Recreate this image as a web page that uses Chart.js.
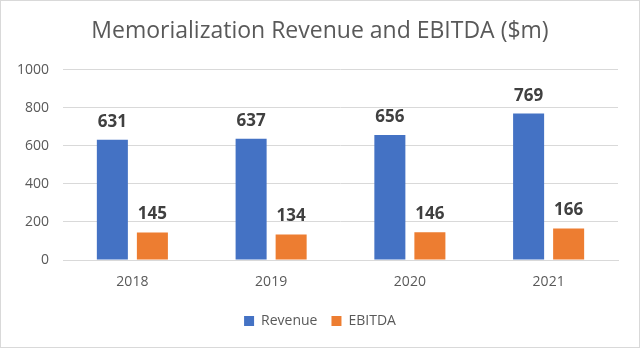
<!DOCTYPE html>
<html lang="en">
<head>
<meta charset="UTF-8">
<title>Memorialization Revenue and EBITDA</title>
<script src="https://cdn.jsdelivr.net/npm/chart.js"></script>
<style>
  html, body { margin: 0; padding: 0; background: #fff; }
  .marco { width: 638px; height: 346px; border: 1px solid #d9d9d9; }
</style>
</head>
<body>
<div class="marco">
  <canvas id="grafica" width="638" height="346"></canvas>
</div>
<script>
const years = ["2018", "2019", "2020", "2021"];
const revenue = [631, 637, 656, 769];
const ebitda = [145, 134, 146, 166];
const yTicks = [0, 200, 400, 600, 800, 1000];

const fuente = "'Open Sans', sans-serif";

// etiquetas de valor encima de cada barra
const etiquetas = {
  id: "etiquetas",
  afterDatasetsDraw(chart) {
    const ctx = chart.ctx;
    ctx.save();
    ctx.font = "bold 17px " + fuente;
    ctx.fillStyle = "#404040";
    ctx.textAlign = "center";
    ctx.textBaseline = "alphabetic";
    chart.data.datasets.forEach((ds, i) => {
      chart.getDatasetMeta(i).data.forEach((bar, j) => {
        ctx.fillText(ds.data[j], bar.x, bar.y - 13);
      });
    });
    ctx.restore();
  }
};

new Chart(document.getElementById("grafica"), {
  type: "bar",
  data: {
    labels: years,
    datasets: [
      { label: "Revenue", data: revenue, backgroundColor: "#4472c4" },
      { label: "EBITDA", data: ebitda, backgroundColor: "#ed7d31" }
    ]
  },
  options: {
    responsive: false,
    animation: false,
    layout: { padding: { left: 10, right: 10, top: 0, bottom: 9 } },
    datasets: { bar: { categoryPercentage: 0.577, barPercentage: 0.775 } },
    plugins: {
      title: {
        display: true,
        text: "Memorialization Revenue and EBITDA ($m)",
        color: "#595959",
        font: { family: fuente, size: 23, weight: "normal" },
        padding: { top: 17, bottom: 24 }
      },
      legend: {
        position: "bottom",
        labels: {
          color: "#595959",
          font: { family: fuente, size: 14 },
          boxWidth: 10, boxHeight: 10, padding: 14
        }
      },
      tooltip: { enabled: false }
    },
    scales: {
      x: {
        grid: { display: false },
        border: { color: "#d9d9d9" },
        ticks: { color: "#595959", font: { family: fuente, size: 14 }, padding: 6 },
        afterFit: axis => { axis.height = 40; }
      },
      y: {
        min: 0, max: 1000,
        afterBuildTicks: axis => { axis.ticks = yTicks.map(v => ({ value: v })); },
        grid: { color: "#d9d9d9", drawTicks: false },
        border: { display: false },
        ticks: { color: "#595959", font: { family: fuente, size: 14 }, padding: 14, callback: v => String(v) },
        afterFit: axis => { axis.width = 52; }
      },
      derecha: {
        position: "right",
        grid: { display: false },
        border: { display: false },
        ticks: { display: false },
        afterFit: axis => { axis.width = 11; }
      }
    }
  },
  plugins: [etiquetas]
});
</script>
</body>
</html>
